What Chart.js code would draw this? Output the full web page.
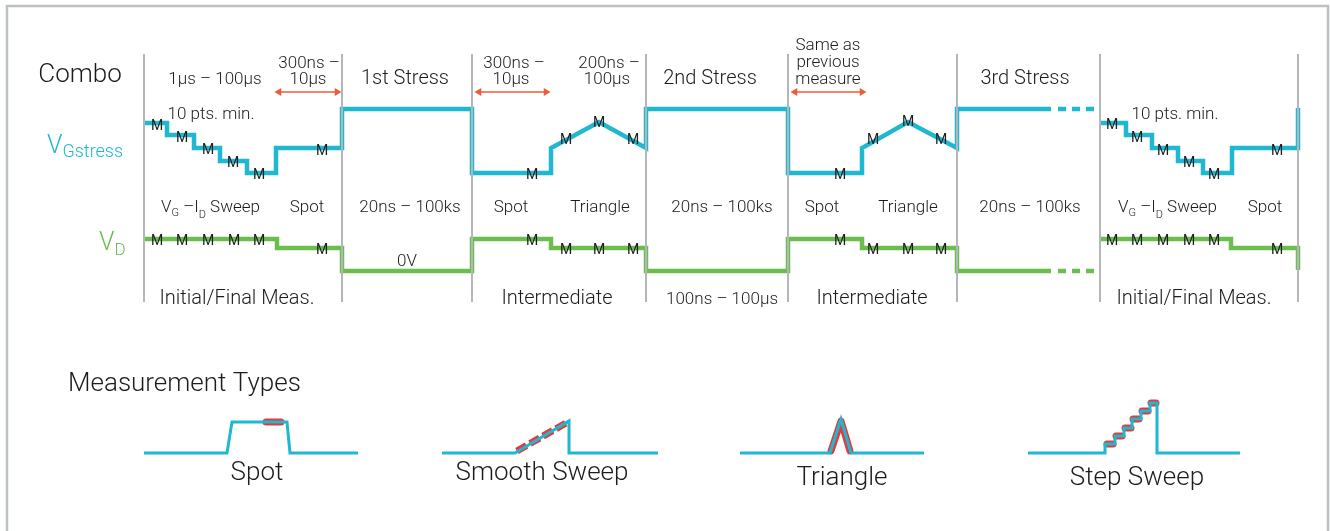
<!DOCTYPE html>
<html>
<head>
<meta charset="utf-8">
<script src="https://cdn.jsdelivr.net/npm/chart.js@4.4.0/dist/chart.umd.min.js"></script>
<style>
  html, body { margin: 0; padding: 0; background: #fff; }
  #wrap { width: 1330px; height: 531px; }
</style>
</head>
<body>
<div id="wrap"><canvas id="diagram" width="1330" height="531"></canvas></div>
<script>
// waveform vertices (time position, level), diagram units
const vgX = [144,167,167,194,194,220,220,247,247,276,276,342,342,472,472,551,551,599,646,646,788,788,862,862,908,957,957,1051];
const vgY = [123,123,135,135,148,148,161,161,173,173,148,148,109,109,173,173,148,122,148,109,109,173,173,148,122,148,109,109];
const vgEndX = [1100,1126,1126,1152,1152,1178,1178,1203,1203,1232,1232,1298,1298];
const vgEndY = [123,123,135,135,148,148,161,161,173,173,148,148,108];
const vdX = [144,277,277,342,342,472,472,551,551,646,646,788,788,862,862,957,957,1051];
const vdY = [239,239,248,248,271,271,239,239,248,248,271,271,239,239,248,248,271,271];
const vdEndX = [1100,1231,1231,1298,1298];
const vdEndY = [239,239,248,248,270];
const dottedSpan = [1058, 1094];

// phase boundaries and timing arrows
const dividerX = [144,342,472,646,788,957,1100,1298];
const arrowSpans = [[275,341],[475,550],[791,866]];

// "M" measurement marks on each trace
const vgMarkX = [157,182,208,233,259,322,532,566,599,633,840,873,908,941,1112,1137,1163,1189,1214,1277];
const vgMarkY = [125,137,149,162,174,150,174,139,122,139,174,139,121,139,124,137,150,162,174,150];
const vdMarkX = [157,182,208,234,259,322,532,566,599,633,840,873,908,941,1112,1137,1163,1189,1214,1277];
const vdMarkY = [240,240,240,240,240,249,240,249,249,249,240,249,249,249,240,240,240,240,240,249];

// measurement type icons
const spotX = [144,227,232,287,290,358];
const spotY = [453,453,422,422,453,453];
const smoothX = [442,515,569,569,658];
const smoothY = [453,453,421,453,453];
const triX = [740,830,841,851,924];
const triY = [453,453,419,453,453];
const stepX = [1028,1105,1105,1115,1115,1124,1124,1132,1132,1141,1141,1150,1150,1157,1157,1240];
const stepY = [453,453,444,444,436,436,428,428,419,419,411,411,403,403,453,453];
const stepMarkX = [1107,1113,1116,1122,1125,1131,1133,1139,1142,1148,1151,1156];
const stepMarkY = [444,444,436,436,428,428,419,419,411,411,403,403];

const CYAN = '#1fb8d0';
const GREEN = '#6bbd4e';
const GRAY = '#b3b7ba';
const RED = '#e23b3e';
const DARKRED = '#6e262c';
const ORANGE = '#ea5d3a';
const INK = '#1c1c1c';
const FONT = 'Roboto, "Liberation Sans", Arial, sans-serif';

const pts = (xs, ys) => xs.map((x, i) => ({ x: x, y: ys[i] }));
const withGaps = (groups) => {
  const out = [];
  groups.forEach((g, i) => { if (i) out.push({ x: g[0].x, y: null }); out.push(...g); });
  return out;
};
const pairGroups = (xs, ys) => {
  const g = [];
  for (let i = 0; i < xs.length; i += 2) g.push([{ x: xs[i], y: ys[i] }, { x: xs[i + 1], y: ys[i + 1] }]);
  return g;
};

function line(data, color, width, extra) {
  return Object.assign({
    data: data, showLine: true, borderColor: color, borderWidth: width,
    pointRadius: 0, borderJoinStyle: 'miter', borderCapStyle: 'butt',
    spanGaps: false, clip: false, tension: 0
  }, extra || {});
}

const datasets = [];
// frame
datasets.push(line([{ x: 7, y: 531 }, { x: 7, y: 6 }, { x: 1328, y: 6 }, { x: 1328, y: 531 }], '#bcc0c3', 2.5));
// phase dividers
datasets.push(line(withGaps(dividerX.map(x => [{ x: x, y: 54 }, { x: x, y: 302 }])), GRAY, 2));
// traces
datasets.push(line(withGaps([pts(vgX, vgY), pts(vgEndX, vgEndY)]), CYAN, 4.5));
datasets.push(line(pts(dottedSpan, [109, 109]), CYAN, 4.5, { borderDash: [8, 6] }));
datasets.push(line(withGaps([pts(vdX, vdY), pts(vdEndX, vdEndY)]), GREEN, 4.5));
datasets.push(line(pts(dottedSpan, [271, 271]), GREEN, 4.5, { borderDash: [8, 6] }));
// timing arrows
arrowSpans.forEach(s => {
  datasets.push(line([{ x: s[0] + 4, y: 92 }, { x: s[1] - 4, y: 92 }], ORANGE, 1.6, {
    pointRadius: 4.5, pointStyle: 'triangle', pointRotation: [270, 90],
    pointBackgroundColor: ORANGE, pointBorderColor: ORANGE, pointBorderWidth: 0
  }));
});
// icons
[[spotX, spotY], [smoothX, smoothY], [triX, triY], [stepX, stepY]].forEach(p => {
  datasets.push(line(pts(p[0], p[1]), CYAN, 3));
});
// red measurement markers
const markerSets = [
  { d: [{ x: 266, y: 422 }, { x: 281, y: 422 }], dash: [] },
  { d: [{ x: 517, y: 451 }, { x: 566, y: 423 }], dash: [11, 4] },
  { d: pts([831, 841, 850], [451, 421, 451]), dash: [] },
  { d: withGaps(pairGroups(stepMarkX, stepMarkY)), dash: [] }
];
markerSets.forEach(m => {
  const cap = m.dash.length ? 'butt' : 'round';
  datasets.push(line(m.d, RED, 7, { borderDash: m.dash, borderCapStyle: cap, borderJoinStyle: 'round' }));
  datasets.push(line(m.d, DARKRED, 3.5, { borderDash: m.dash, borderCapStyle: cap, borderJoinStyle: 'round' }));
});

// text annotations: [text, x, y, size]
const texts = [
  ['Combo', 80, 73, 26],
  ['1µs – 100µs', 215, 78, 17],
  ['300ns –', 309, 62, 17], ['10µs', 308, 78, 17],
  ['1st Stress', 405, 77, 20],
  ['300ns –', 514, 62, 17], ['10µs', 511, 78, 17],
  ['200ns –', 609, 62, 17], ['100µs', 607, 78, 17],
  ['2nd Stress', 710, 77, 20],
  ['Same as', 828, 44, 17], ['previous', 828, 61, 17], ['measure', 828, 78, 17],
  ['3rd Stress', 1025, 77, 20],
  ['10 pts. min.', 211, 113, 17], ['10 pts. min.', 1175, 113, 17],
  ['Spot', 307, 206, 17], ['20ns – 100ks', 410, 206, 17],
  ['Spot', 511, 206, 17], ['Triangle', 600, 206, 17],
  ['20ns – 100ks', 722, 206, 17],
  ['Spot', 822, 206, 17], ['Triangle', 908, 206, 17],
  ['20ns – 100ks', 1030, 206, 17], ['Spot', 1265, 206, 17],
  ['0V', 407, 260, 17],
  ['Initial/Final Meas.', 237, 297, 20], ['Intermediate', 557, 297, 20],
  ['100ns – 100µs', 722, 298, 17], ['Intermediate', 872, 297, 20],
  ['Initial/Final Meas.', 1194, 297, 20],
  ['Spot', 257, 471, 26], ['Smooth Sweep', 542, 471, 26],
  ['Triangle', 842, 476, 26], ['Step Sweep', 1137, 476, 26]
];
// rich labels with subscripts: [x, baselineY, color, [[text, size, dy]]]
const richTexts = [
  [47, 153, CYAN, [['V', 25, 0], ['Gstress', 18, 4]]],
  [99, 250, GREEN, [['V', 25, 0], ['D', 17, 5]]],
  [161, 212, INK, [['V', 17, 0], ['G', 11, 4], [' –', 17, 0], ['I', 17, 0], ['D', 11, 6], [' Sweep', 17, 0]]],
  [1118, 212, INK, [['V', 17, 0], ['G', 11, 4], [' –', 17, 0], ['I', 17, 0], ['D', 11, 6], [' Sweep', 17, 0]]]
];

const textPlugin = {
  id: 'diagramText',
  afterDatasetsDraw(chart) {
    const ctx = chart.ctx, sx = chart.scales.x, sy = chart.scales.y;
    ctx.save();
    ctx.fillStyle = INK;
    ctx.textBaseline = 'middle';
    ctx.textAlign = 'center';
    // canvas "middle" sits a bit high for this face, nudge down by ~0.1em
    texts.forEach(t => {
      ctx.font = '300 ' + t[3] + 'px ' + FONT;
      ctx.fillText(t[0], sx.getPixelForValue(t[1]), sy.getPixelForValue(t[2]) + t[3] * 0.1);
    });
    ctx.font = '14px ' + FONT;
    vgMarkX.forEach((x, i) => ctx.fillText('M', sx.getPixelForValue(x), sy.getPixelForValue(vgMarkY[i]) + 1));
    vdMarkX.forEach((x, i) => ctx.fillText('M', sx.getPixelForValue(x), sy.getPixelForValue(vdMarkY[i]) + 1));
    ctx.font = '300 26px ' + FONT;
    ctx.textAlign = 'left';
    ctx.fillText('Measurement Types', sx.getPixelForValue(68), sy.getPixelForValue(382) + 2.5);
    ctx.textBaseline = 'alphabetic';
    richTexts.forEach(r => {
      let x = sx.getPixelForValue(r[0]);
      const y = sy.getPixelForValue(r[1]);
      ctx.fillStyle = r[2];
      r[3].forEach(seg => {
        ctx.font = '300 ' + seg[1] + 'px ' + FONT;
        ctx.fillText(seg[0], x, y + seg[2]);
        x += ctx.measureText(seg[0]).width;
      });
    });
    ctx.restore();
  }
};

new Chart(document.getElementById('diagram'), {
  type: 'scatter',
  data: { datasets: datasets },
  options: {
    responsive: false,
    animation: false,
    devicePixelRatio: 1,
    layout: { padding: 0, autoPadding: false },
    plugins: { legend: { display: false }, tooltip: { enabled: false } },
    scales: {
      x: { type: 'linear', min: 0, max: 1330, display: false },
      y: { type: 'linear', min: 0, max: 531, reverse: true, display: false }
    }
  },
  plugins: [textPlugin]
});
</script>
</body>
</html>
